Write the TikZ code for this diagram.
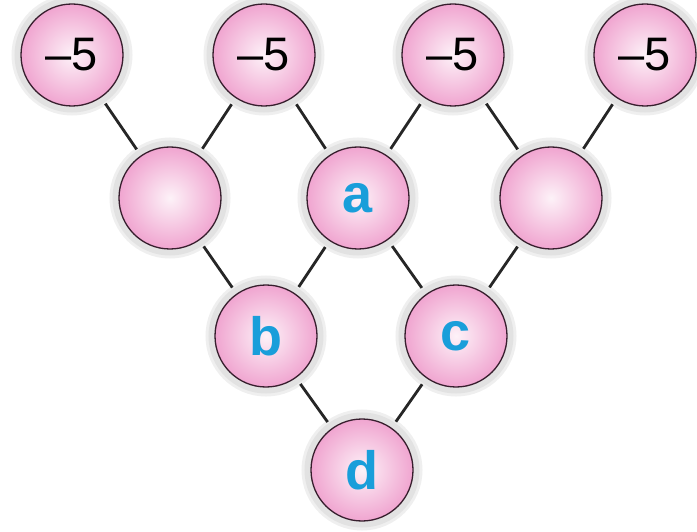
\documentclass[tikz,border=0pt]{standalone}
\usepackage{fontspec}
\setmainfont{Liberation Sans}
\usetikzlibrary{positioning}
\definecolor{ballpink}{RGB}{240,165,208}
\definecolor{ballcore}{RGB}{253,242,248}
\definecolor{ballrim}{RGB}{55,30,45}
\definecolor{halogrey}{RGB}{226,226,226}
\definecolor{lettercyan}{RGB}{25,158,218}
\tikzset{
    ball/.style={circle, minimum size=102pt, inner sep=0pt, outer sep=8pt,
        draw=ballrim, line width=1.3pt, inner color=ballcore, outer color=ballpink,
        preaction={draw=halogrey!55, line width=19pt},
        preaction={draw=halogrey, line width=13pt}},
    num/.style={ball, font=\fontsize{47}{47}\selectfont},
    var/.style={ball, text=lettercyan, font=\fontsize{54}{54}\selectfont\bfseries},
    link/.style={line width=2.8pt, black!85}
}

\begin{document}
\begin{tikzpicture}[x=1pt, y=-1pt]
    \useasboundingbox (0,0) rectangle (697,532);

    % top row
    \node[num] (n1) at (72,55) {–5};
    \node[num] (n2) at (264,55) {–5};
    \node[num] (n3) at (453,55) {–5};
    \node[num] (n4) at (645,55) {–5};

    % second row
    \node[ball] (l) at (170,198) {};
    \node[var] (a) at (358,198) {a};
    \node[ball] (r) at (551,198) {};

    % bottom rows
    \node[var] (b) at (266,336) {b};
    \node[var] (c) at (456,336) {c};
    \node[var] (d) at (362,470) {d};

    \draw[link]
    (n1) -- (l)  (n2) -- (l)
    (n2) -- (a)  (n3) -- (a)
    (n3) -- (r)  (n4) -- (r)
    (l) -- (b)   (a) -- (b)
    (a) -- (c)   (r) -- (c)
    (b) -- (d)   (c) -- (d)
    ;
\end{tikzpicture}
\end{document}
